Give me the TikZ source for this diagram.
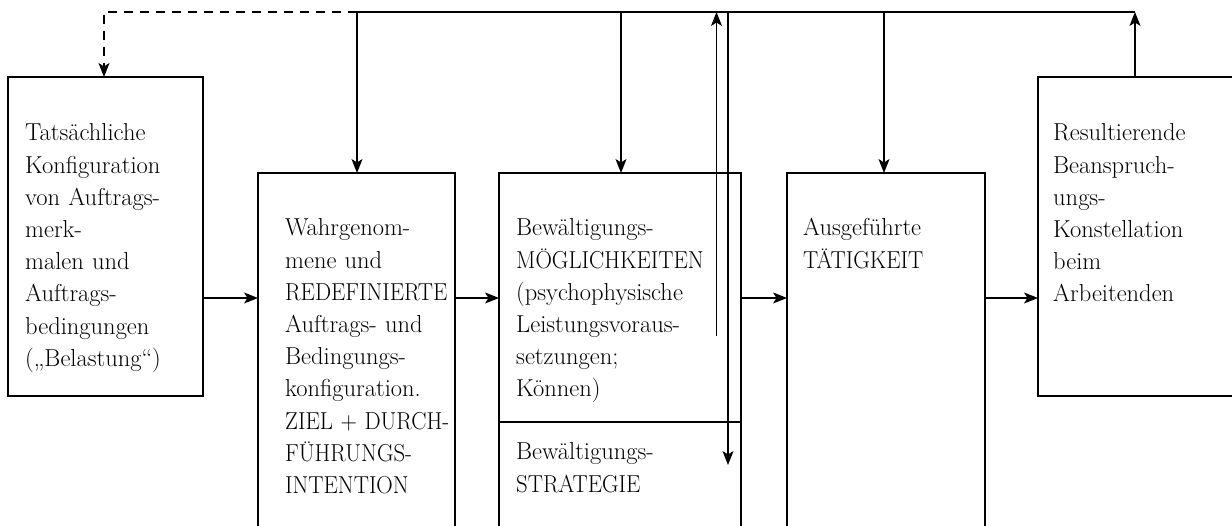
\documentclass[tikz,border=0pt]{standalone}
\usetikzlibrary{arrows.meta}
\newcommand\capsx[1]{\scalebox{0.93}[1]{#1}}
\begin{document}
\begin{tikzpicture}[x=1pt,y=-1pt,
  box/.style={draw, line width=1.2pt, inner sep=0pt, outer sep=0pt},
  txt/.style={anchor=base west, inner sep=0pt, text width=230pt, align=left,
    font=\fontsize{24.5}{32.2}\selectfont},
  arr/.style={-{Stealth[length=14pt,width=11pt,inset=3.5pt]}, line width=1.2pt},
  conn/.style={line width=1.2pt},
  dashline/.style={dash pattern=on 9pt off 7pt}]
\useasboundingbox (0,0) rectangle (1232,526);
\clip (0,0) rectangle (1232,526);
% boxes
\node[box, minimum width=195pt, minimum height=319pt] (b1) at (105.5,236.5) {};
\node[box, minimum width=197pt, minimum height=377pt] (b2) at (356.5,361.5) {};
\node[box, minimum width=242pt, minimum height=377pt] (b3) at (620,361.5) {};
\node[box, minimum width=198pt, minimum height=377pt] (b4) at (886,361.5) {};
\node[box, minimum width=198pt, minimum height=319pt] (b5) at (1137,236.5) {};
\coordinate (dv) at (0,422);
\draw[conn] (b3.west |- dv) -- (b3.east |- dv);
% texts
\node[txt] (t1) at (25,141) {Tatsächliche\\Konfiguration\\von Auftrags-\\merk-\\malen und\\Auftrags-\\bedingungen\\(„Belastung“)};
\node[txt] (t2) at (285,236) {Wahrgenom-\\mene und\\\capsx{REDEFINIERTE}\\Auftrags- und\\Bedingungs-\\konfiguration.\\\capsx{ZIEL + DURCH-}\\\capsx{FÜHRUNGS-}\\\capsx{INTENTION}};
\node[txt] (t3) at (516,236) {Bewältigungs-\\\capsx{MÖGLICHKEITEN}\\(psychophysische\\Leistungsvoraus-\\setzungen;\\Können)};
\node[txt] (t3b) at (516,460) {Bewältigungs-\\\capsx{STRATEGIE}};
\node[txt] (t4) at (803,236) {Ausgeführte\\\capsx{TÄTIGKEIT}};
\node[txt] (t5) at (1053,141) {Resultierende\\Beanspruch-\\ungs-\\Konstellation\\beim\\Arbeitenden};
% horizontal flow arrows
\coordinate (ay) at (0,298);
\draw[arr] (b1.east |- ay) -- (b2.west |- ay);
\draw[arr] (b2.east |- ay) -- (b3.west |- ay);
\draw[arr] (b3.east |- ay) -- (b4.west |- ay);
\draw[arr] (b4.east |- ay) -- (b5.west |- ay);
% top feedback line
\coordinate (tl) at (357,12);
\coordinate (tr) at (1135,12);
\coordinate (dl) at (104,12);
\coordinate (c3) at (621,12);
\coordinate (c4) at (884,12);
\coordinate (u0) at (716.5,336);
\coordinate (d0) at (728,12);
\coordinate (d1) at (728,465);
\draw[conn] (tl) -- (tr);
\draw[arr, dashline] (tl) -- (dl) -- (dl |- b1.north);
\draw[arr] (tl) -- (tl |- b2.north);
\draw[arr] (c3) -- (c3 |- b3.north);
\draw[arr] (c4) -- (c4 |- b4.north);
\draw[arr] (b5.north -| tr) -- (tr);
\draw[arr] (u0) -- (u0 |- tl);
\draw[arr] (d0) -- (d1);
\end{tikzpicture}
\end{document}
